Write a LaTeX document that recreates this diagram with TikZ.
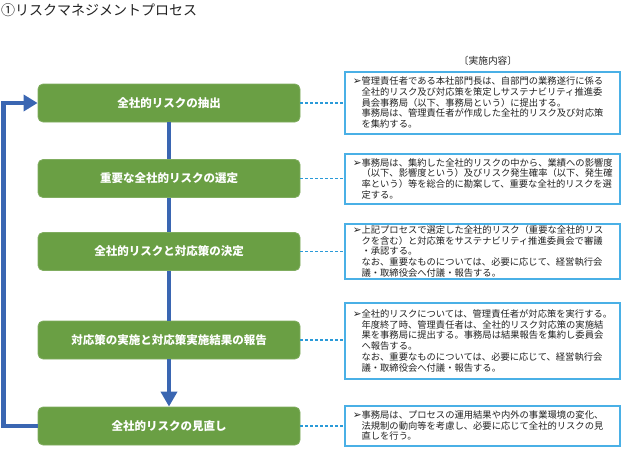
\documentclass[tikz,border=0pt]{standalone}
\usepackage{fontspec}
\setmainfont{Noto Sans CJK JP}
\newfontfamily\dingfont{DejaVu Sans}
\usetikzlibrary{arrows.meta}
\definecolor{stepgreen}{HTML}{6A9F44}
\definecolor{flowblue}{HTML}{3A66B2}
\definecolor{noteblue}{HTML}{4AB0E6}
\definecolor{linkblue}{HTML}{2A9AD8}
\definecolor{textgray}{HTML}{222222}
\newsavebox\bulletbox
\newcommand\notetext[1]{\sbox\bulletbox{{\dingfont\fontsize{10.5}{10.7}\selectfont ➢}}%
  \def\\{\break}\rightskip=0pt plus 1fil\parfillskip=0pt plus 1fil
  \noindent\hangindent=\wd\bulletbox\hangafter=1\usebox\bulletbox#1\par}
\begin{document}
\begin{tikzpicture}[x=1pt,y=-1pt,
  stepbox/.style={fill=stepgreen, draw=stepgreen!85!white, line width=0.8pt, rounded corners=5pt,
    minimum width=262pt, minimum height=38pt,
    text=white, font=\fontsize{11.5}{13}\selectfont\bfseries, inner sep=0pt},
  notebox/.style={draw=noteblue, line width=1.5pt, fill=white, minimum width=275pt, text width=259pt,
    inner xsep=8pt, inner ysep=0pt, anchor=north west, align=left, text=textgray,
    font=\fontsize{9.3}{10.7}\selectfont},
  flow/.style={draw=flowblue, line width=4.5pt},
  link/.style={draw=linkblue, line width=1.1pt, dash pattern=on 3pt off 2pt}]
\useasboundingbox (0,0) rectangle (624,450);

\node[anchor=west, inner sep=0pt, text=textgray, font=\fontsize{14}{16}\selectfont] (title) at (1,10) {①リスクマネジメントプロセス};

\node[stepbox] (b1) at (169,103) {全社的リスクの抽出};
\node[stepbox] (b2) at (169,178.5) {重要な全社的リスクの選定};
\node[stepbox] (b3) at (169,251.5) {全社的リスクと対応策の決定};
\node[stepbox] (b4) at (169,340) {対応策の実施と対応策実施結果の報告};
\node[stepbox] (b5) at (169,426) {全社的リスクの見直し};

\draw[flow] (b1) -- (b2);
\draw[flow] (b2) -- (b3);
\draw[flow] (b3) -- (b4);
\draw[flow,-{Triangle[width=16pt,length=15pt]}] (b4) -- (b5);
\draw[flow,-{Triangle[width=16pt,length=14pt]}] (b5.west) -- ++(-34,0) |- (b1.west);

\node[text=textgray, font=\fontsize{9.7}{11}\selectfont] (hdr) at (488,61) {〔実施内容〕};

\node[notebox, minimum height=62pt] (r1) at (344,71) {\notetext{管理責任者である本社部門長は、自部門の業務遂行に係る\\
全社的リスク及び対応策を策定しサステナビリティ推進委\\
員会事務局（以下、事務局という）に提出する。\\
事務局は、管理責任者が作成した全社的リスク及び対応策\\
を集約する。}};

\node[notebox, minimum height=50pt] (r2) at (344,153) {\notetext{事務局は、集約した全社的リスクの中から、業績への影響度\\
（以下、影響度という）及びリスク発生確率（以下、発生確\\
率という）等を総合的に勘案して、重要な全社的リスクを選\\
定する。}};

\node[notebox, minimum height=55pt] (r3) at (344,223) {\notetext{上記プロセスで選定した全社的リスク（重要な全社的リス\\
クを含む）と対応策をサステナビリティ推進委員会で審議\\
・承認する。\\
なお、重要なものについては、必要に応じて、経営執行会\\
議・取締役会へ付議・報告する。}};

\node[notebox, minimum height=76pt] (r4) at (344,302) {\notetext{全社的リスクについては、管理責任者が対応策を実行する。\\
年度終了時、管理責任者は、全社的リスク対応策の実施結\\
果を事務局に提出する。事務局は結果報告を集約し委員会\\
へ報告する。\\
なお、重要なものについては、必要に応じて、経営執行会\\
議・取締役会へ付議・報告する。}};

\node[notebox, minimum height=40pt] (r5) at (344,405) {\notetext{事務局は、プロセスの運用結果や内外の事業環境の変化、\\
法規制の動向等を考慮し、必要に応じて全社的リスクの見\\
直しを行う。}};

\draw[link] (b1.east) -- (b1.east -| r1.west);
\draw[link] (b2.east) -- (b2.east -| r2.west);
\draw[link] (b3.east) -- (b3.east -| r3.west);
\draw[link] (b4.east) -- (b4.east -| r4.west);
\draw[link] (b5.east) -- (b5.east -| r5.west);
\end{tikzpicture}
\end{document}
